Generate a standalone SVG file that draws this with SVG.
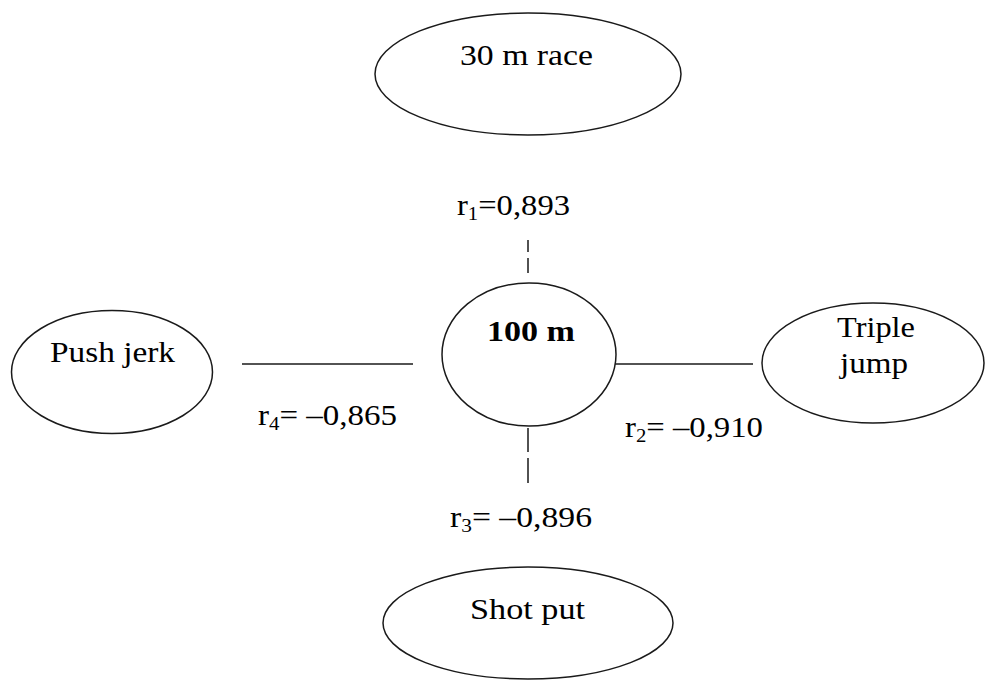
<svg xmlns="http://www.w3.org/2000/svg" width="986" height="680" viewBox="0 0 986 680">
<style>
.node { fill: #ffffff; stroke: #1a1a1a; stroke-width: 1.5; }
.lbl { font-family: "Liberation Serif", "Times New Roman", serif; font-size: 30px; fill: #000; }
.bold { font-weight: bold; }
.sub { font-size: 19px; }
.conn { stroke: #1a1a1a; stroke-width: 1.5; fill: none; }
</style>
<rect width="986" height="680" fill="#ffffff"/>
<g id="connectors">
  <line class="conn" x1="528" y1="240" x2="528" y2="273" stroke-dasharray="12 6 15 10"/>
  <line class="conn" x1="528" y1="428" x2="528" y2="483" stroke-dasharray="24 6 25 10"/>
  <line class="conn" x1="242" y1="364" x2="413" y2="364"/>
  <line class="conn" x1="615" y1="364" x2="753" y2="364"/>
</g>
<g id="node-30m">
  <ellipse class="node" cx="528" cy="74" rx="153" ry="61"/>
  <text class="lbl" x="460" y="65" textLength="133" lengthAdjust="spacingAndGlyphs">30 m race</text>
</g>
<g id="node-100m">
  <ellipse class="node" cx="529" cy="354.5" rx="87" ry="71.5"/>
  <text class="lbl bold" x="487" y="341" textLength="88" lengthAdjust="spacingAndGlyphs">100 m</text>
</g>
<g id="node-pushjerk">
  <ellipse class="node" cx="112" cy="372" rx="100.5" ry="61.5"/>
  <text class="lbl" x="50" y="362" textLength="125" lengthAdjust="spacingAndGlyphs">Push jerk</text>
</g>
<g id="node-triplejump">
  <ellipse class="node" cx="873" cy="363" rx="111" ry="60"/>
  <text class="lbl" x="837" y="337" textLength="78" lengthAdjust="spacingAndGlyphs">Triple</text>
  <text class="lbl" x="840" y="373" textLength="68" lengthAdjust="spacingAndGlyphs">jump</text>
</g>
<g id="node-shotput">
  <ellipse class="node" cx="528" cy="623" rx="145" ry="56"/>
  <text class="lbl" x="470" y="619" textLength="115" lengthAdjust="spacingAndGlyphs">Shot put</text>
</g>
<g id="labels">
  <text class="lbl" x="457" y="215" textLength="113" lengthAdjust="spacingAndGlyphs">r<tspan class="sub" dy="5">1</tspan><tspan dy="-5">=0,893</tspan></text>
  <text class="lbl" x="625" y="437" textLength="138" lengthAdjust="spacingAndGlyphs">r<tspan class="sub" dy="5">2</tspan><tspan dy="-5">= –0,910</tspan></text>
  <text class="lbl" x="450" y="527" textLength="142" lengthAdjust="spacingAndGlyphs">r<tspan class="sub" dy="5">3</tspan><tspan dy="-5">= –0,896</tspan></text>
  <text class="lbl" x="258" y="425" textLength="139" lengthAdjust="spacingAndGlyphs">r<tspan class="sub" dy="5">4</tspan><tspan dy="-5">= –0,865</tspan></text>
</g>
</svg>
